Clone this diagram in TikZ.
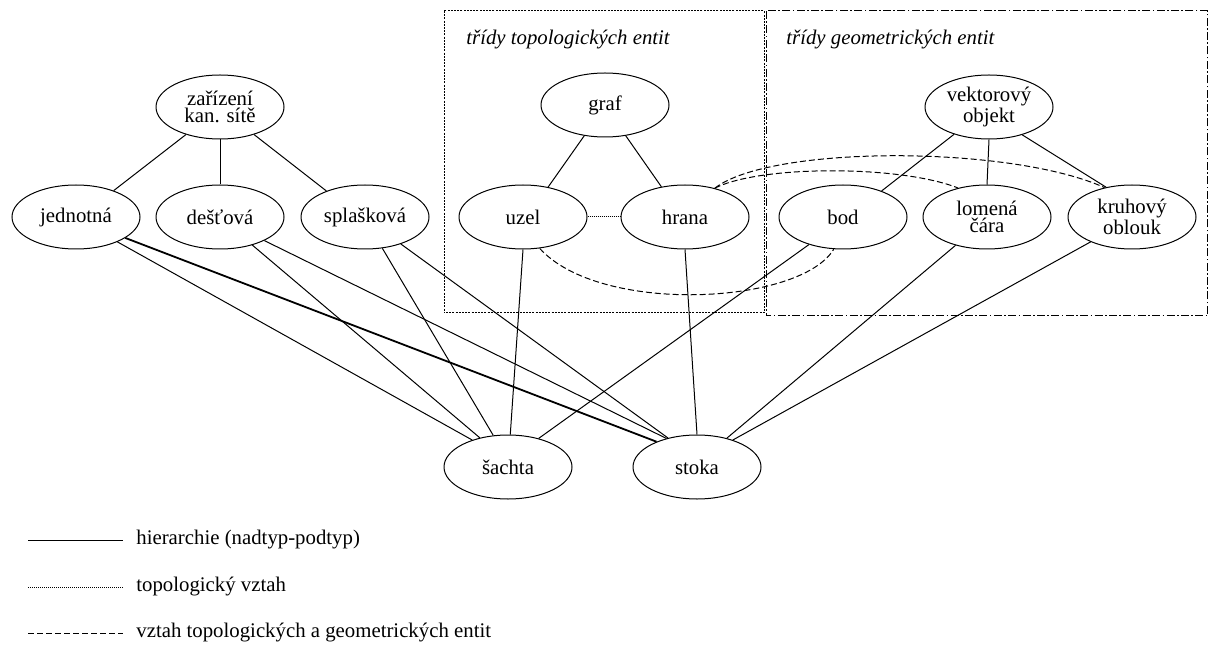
\documentclass[tikz,border=0pt]{standalone}
\usepackage{fontspec}
\setmainfont{Liberation Serif}
\usetikzlibrary{shapes.geometric}
\begin{document}
\begin{tikzpicture}[x=0.5pt,y=-0.5pt,
  ent/.style={ellipse,draw,line width=0.5pt,minimum width=64pt,minimum height=32pt,inner sep=0pt,align=center,font=\fontsize{10.4}{8.6}\selectfont},
  hier/.style={line width=0.5pt},
  hierthick/.style={line width=0.9pt},
  topo/.style={line width=0.5pt,dash pattern=on 0.5pt off 0.5pt},
  tg/.style={line width=0.5pt,dash pattern=on 3pt off 1.5pt},
  topobox/.style={line width=0.5pt,dash pattern=on 1pt off 0.6pt},
  geobox/.style={line width=0.5pt,dash pattern=on 4pt off 1.2pt on 0.8pt off 1.2pt},
  boxtitle/.style={anchor=west,inner sep=0pt,font=\fontsize{10.4}{12}\selectfont\itshape},
  legtext/.style={anchor=west,inner sep=0pt,font=\fontsize{10.4}{12}\selectfont}]
\useasboundingbox (0,0) rectangle (1208,646);

% boxes
\draw[topobox] (444,11) rectangle (764,313);
\draw[geobox] (766,11) rectangle (1207.5,316);
\node[boxtitle] (ttopo) at (466,40) {třídy topologických entit};
\node[boxtitle] (tgeo) at (786,40) {třídy geometrických entit};

% nodes
\node[ent] (zar) at (220,107) {zařízení\\kan. sítě};
\node[ent] (jed) at (76,217) {jednotná};
\node[ent] (des) at (220,217) {dešťová};
\node[ent] (spl) at (365,217) {splašková};
\node[ent] (graf) at (605,105) {graf};
\node[ent] (uzel) at (523,217) {uzel};
\node[ent] (hrana) at (685,217) {hrana};
\node[ent] (vek) at (989,107) {vektorový\\objekt};
\node[ent] (bod) at (843,217) {bod};
\node[ent] (lom) at (987,217) {lomená\\čára};
\node[ent] (kru) at (1132,217) {kruhový\\oblouk};
\node[ent] (sach) at (508,467) {šachta};
\node[ent] (stoka) at (697,467) {stoka};

% hierarchy top
\draw[hier] (zar.219) -- (jed.35);
\draw[hier] (zar.south) -- (des.north);
\draw[hier] (zar.-39) -- (spl.146);
\draw[hier] (graf.236) -- (uzel.50);
\draw[hier] (graf.-56) -- (hrana.128);
\draw[hier] (vek.218) -- (bod.34);
\draw[hier] (vek.south) -- (lom.north);
\draw[hier] (vek.-40) -- (kru.131);

% hierarchy bottom
\draw[hier] (jed.-31) -- (sach.143);
\draw[hierthick] (jed.-23) -- (stoka.148);
\draw[hier] (des.-41) -- (sach.134);
\draw[hier] (des.-28) -- (stoka.137);
\draw[hier] (spl.-61) -- (sach.115);
\draw[hier] (spl.-37) -- (stoka.135);
\draw[hier] (uzel.-90) -- (sach.86);
\draw[hier] (hrana.-90) -- (stoka.90);
\draw[hier] (bod.219) -- (sach.43);
\draw[hier] (lom.222) -- (stoka.44);
\draw[hier] (kru.211) -- (stoka.37);

% topological relation
\draw[topo] (uzel.east) -- (hrana.west);

% topological-geometric relations
\draw[tg] (hrana.44) .. controls (770,145) and (1010,145) .. (kru.133);
\draw[tg] (hrana.44) .. controls (760,165) and (900,165) .. (lom.135);
\draw[tg] (uzel.-62) .. controls (600,315) and (800,305) .. (bod.-106);

% legend
\coordinate (l1a) at (28,540);
\coordinate (l1b) at (123,540);
\coordinate (l2a) at (28,587);
\coordinate (l2b) at (123,587);
\coordinate (l3a) at (28,633);
\coordinate (l3b) at (123,633);
\draw[hier] (l1a) -- (l1b);
\draw[topo] (l2a) -- (l2b);
\draw[tg] (l3a) -- (l3b);
\node[legtext] (leg1) at (136,540) {hierarchie (nadtyp-podtyp)};
\node[legtext] (leg2) at (136,587) {topologický vztah};
\node[legtext] (leg3) at (136,633) {vztah topologických a geometrických entit};
\end{tikzpicture}
\end{document}
